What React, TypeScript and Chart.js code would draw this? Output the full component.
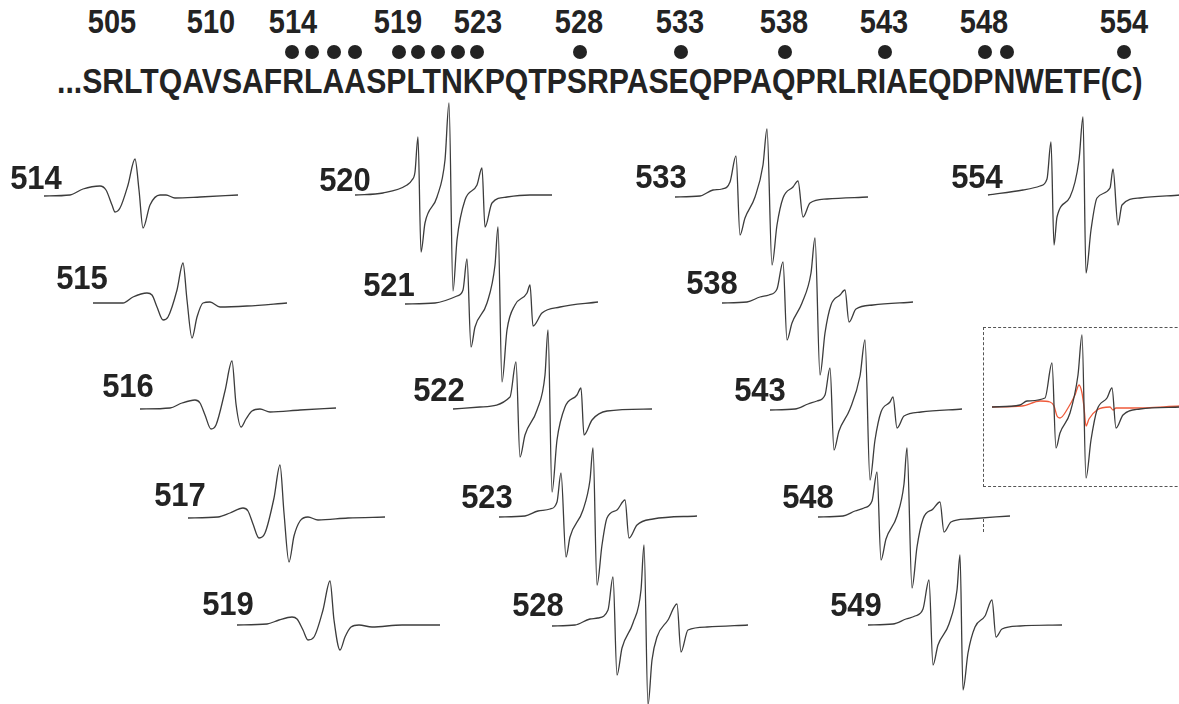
import React, { useEffect, useRef } from "react";
import { Chart, registerables } from "chart.js";

Chart.register(...registerables);

type Pt = [number, number];

// ---------- header (sequence, residue numbers, labelled sites) ----------
const sequenceText = "...SRLTQAVSAFRLAASPLTNKPQTPSRPASEQPPAQPRLRIAEQDPNWETF(C)";
const headerLabels = ["505", "510", "514", "519", "523", "528", "533", "538", "543", "548", "554"];
const headerLabelX = [112, 211, 293, 398, 478, 579, 680, 784, 884, 984, 1124];
const labelledSites = [514, 515, 516, 517, 519, 520, 521, 522, 523, 528, 533, 538, 543, 548, 549, 554];
const siteDotX = [292, 312, 334, 355, 399, 418, 438, 458, 477, 580, 681, 785, 885, 985, 1007, 1124];

// ---------- EPR spectra: [field (sweep units), derivative signal (a.u.)] ----------
const s514: Pt[] = [[0, 0], [26, 1], [39, 7], [56, 10], [62, 6], [68, -9], [71, -16], [76, -12], [84, 11], [91, 37], [95, 6], [99, -32], [106, -9], [116, 1], [122, 1], [131, -2], [156, -1], [194, 1]];
const s515: Pt[] = [[0, 0], [30, 0], [40, 6], [54, 10], [59, 8], [64, -4], [70, -17], [75, -14], [84, 13], [90, 40], [94, 3], [99, -35], [104, -14], [110, 0], [117, 1], [127, -4], [154, -3], [194, 0]];
const s516: Pt[] = [[0, 0], [30, 1], [42, 6], [55, 9], [60, 6], [65, -6], [71, -20], [76, -16], [85, 18], [92, 48], [96, 5], [101, -18], [106, -10], [112, -2], [120, 0], [130, -3], [160, -1], [196, 1]];
const s517: Pt[] = [[0, 0], [30, 1], [42, 5], [55, 10], [60, 7], [65, -6], [71, -20], [77, -15], [86, 20], [92, 53], [96, 5], [101, -44], [106, -18], [112, -3], [120, 1], [130, -2], [160, 0], [197, 1]];
const s519: Pt[] = [[0, 0], [30, 1], [42, 5], [55, 8], [60, 6], [66, -5], [71, -15], [77, -12], [86, 15], [93, 44], [97, 5], [103, -25], [108, -12], [114, -2], [122, 0], [135, -2], [165, 0], [203, 0]];
const s520: Pt[] = [[0, 0], [28, 2], [52, 10], [57, 15], [60, 23], [63, 58], [66, -57], [70, -28], [82, -2], [90, 35], [94, 92], [98, -96], [102, -45], [110, -5], [122, 10], [127, 27], [130, -32], [137, -8], [152, -2], [175, 0], [197, 0]];
const s521: Pt[] = [[0, 0], [30, 1], [52, 8], [58, 14], [62, 45], [66, -43], [70, -23], [82, 1], [90, 39], [93, 77], [97, -78], [102, -26], [110, -1], [122, 11], [125, 19], [128, -22], [137, -9], [155, -3], [193, 2]];
const s522: Pt[] = [[0, 0], [27, 2], [57, 12], [63, 47], [67, -48], [72, -26], [84, -1], [92, 34], [95, 79], [99, -83], [104, -31], [112, 2], [124, 14], [128, 21], [131, -26], [139, -11], [154, -2], [199, 0]];
const s523: Pt[] = [[0, -1], [26, 0], [39, 5], [51, 7], [58, 14], [62, 43], [67, -41], [71, -21], [84, 6], [91, 36], [94, 68], [98, -69], [103, -29], [108, -2], [118, 6], [126, 16], [130, -22], [138, -9], [154, -3], [198, 0]];
const s528: Pt[] = [[0, 0], [23, 1], [38, 7], [46, 8], [56, 16], [61, 49], [65, -49], [70, -22], [81, 3], [89, 36], [92, 81], [96, -79], [100, -34], [105, -11], [116, 6], [125, 22], [129, -26], [136, -4], [155, -1], [196, 1]];
const s533: Pt[] = [[0, 0], [25, 1], [38, 7], [47, 8], [55, 15], [61, 41], [65, -38], [70, -21], [80, 0], [88, 32], [92, 68], [97, -68], [102, -28], [108, -1], [118, 10], [123, 16], [128, -20], [135, -6], [152, -2], [193, 0]];
const s538: Pt[] = [[0, 0], [25, 1], [38, 6], [47, 8], [55, 14], [61, 41], [65, -37], [70, -20], [80, 0], [89, 30], [93, 65], [98, -72], [103, -30], [109, -2], [118, 8], [123, 13], [127, -19], [134, -6], [151, -2], [191, 1]];
const s543: Pt[] = [[0, 0], [25, 1], [38, 6], [47, 9], [55, 15], [60, 42], [64, -40], [69, -21], [80, 1], [90, 34], [95, 70], [100, -70], [105, -30], [111, -2], [120, 8], [123, 13], [127, -18], [134, -6], [151, -2], [192, 1]];
const s548: Pt[] = [[0, 0], [25, 1], [37, 6], [46, 9], [54, 16], [59, 45], [63, -43], [68, -22], [79, 1], [86, 33], [89, 69], [94, -71], [99, -30], [105, -2], [115, 8], [122, 15], [126, -15], [133, -5], [150, -2], [192, 1]];
const s549: Pt[] = [[0, 0], [25, 1], [38, 6], [47, 9], [55, 16], [61, 45], [65, -40], [70, -20], [81, 1], [89, 35], [92, 70], [95, -65], [100, -28], [107, -2], [117, 9], [124, 25], [128, -12], [134, -4], [152, -1], [194, 0]];
const s554: Pt[] = [[0, 0], [35, 5], [52, 9], [59, 16], [63, 53], [66, -50], [69, -22], [82, -2], [91, 35], [95, 78], [98, -78], [103, -35], [109, -3], [122, 7], [125, 26], [130, -30], [134, -10], [152, -3], [192, 0]];
// boxed comparison: 554 spectrum (black) and reduced spectrum (red)
const s554box: Pt[] = [[0, 0], [28, 2], [35, 6], [53, 9], [60, 44], [64, -41], [68, -26], [78, -6], [86, 32], [90, 72], [94, -71], [99, -33], [105, -3], [115, 9], [120, 19], [124, -21], [131, -8], [148, -2], [188, 0]];
const s554red: Pt[] = [[0, 0], [30, 1], [48, 6], [58, 5], [62, 1], [65, -9], [68, -11], [76, -1], [83, 12], [87, 22], [90, 14], [92, 0], [94, -19], [97, -12], [105, -3], [118, 0], [121, -3], [124, -1], [140, -1], [188, 1]];

// ---------- layout ----------
const TRACE = "#3c3c3c";
const RED = "#ef5a3a";
const X_MIN = -6, X_MAX = 206, Y_MIN = -120, Y_MAX = 125;

type Panel = { label: string; data: Pt[]; x0: number; base: number; lx: number; ly: number };
const panels: Panel[] = [
  { label: "514", data: s514, x0: 44, base: 196, lx: 36, ly: 178 },
  { label: "515", data: s515, x0: 93, base: 303, lx: 82, ly: 278 },
  { label: "516", data: s516, x0: 140, base: 409, lx: 128, ly: 386 },
  { label: "517", data: s517, x0: 188, base: 518, lx: 180, ly: 495 },
  { label: "519", data: s519, x0: 237, base: 625, lx: 228, ly: 604 },
  { label: "520", data: s520, x0: 355, base: 195, lx: 345, ly: 180 },
  { label: "521", data: s521, x0: 405, base: 304, lx: 389, ly: 285 },
  { label: "522", data: s522, x0: 453, base: 409, lx: 439, ly: 390 },
  { label: "523", data: s523, x0: 499, base: 516, lx: 487, ly: 497 },
  { label: "528", data: s528, x0: 552, base: 626, lx: 538, ly: 605 },
  { label: "533", data: s533, x0: 675, base: 197, lx: 661, ly: 177 },
  { label: "538", data: s538, x0: 722, base: 303, lx: 712, ly: 283 },
  { label: "543", data: s543, x0: 770, base: 410, lx: 760, ly: 390 },
  { label: "548", data: s548, x0: 818, base: 517, lx: 808, ly: 497 },
  { label: "549", data: s549, x0: 868, base: 625, lx: 856, ly: 605 },
  { label: "554", data: s554, x0: 988, base: 195, lx: 977, ly: 177 },
];

type Series = { data: Pt[]; color: string };

function Spectrum({ x0, base, series }: { x0: number; base: number; series: Series[] }) {
  const ref = useRef<HTMLCanvasElement>(null);
  const W = X_MAX - X_MIN;
  const H = Y_MAX - Y_MIN;
  useEffect(() => {
    if (!ref.current) return;
    const chart = new Chart(ref.current, {
      type: "line",
      data: {
        datasets: series.map((s) => ({
          data: s.data.map(([x, y]) => ({ x, y })),
          borderColor: s.color,
          borderWidth: 1.3,
          pointRadius: 0,
          fill: false,
          cubicInterpolationMode: "monotone" as const,
        })),
      },
      options: {
        animation: false,
        responsive: false,
        devicePixelRatio: 1,
        events: [],
        layout: { padding: 0 },
        plugins: { legend: { display: false }, tooltip: { enabled: false } },
        scales: {
          x: { type: "linear", min: X_MIN, max: X_MAX, display: false },
          y: { type: "linear", min: Y_MIN, max: Y_MAX, display: false },
        },
      },
    });
    return () => chart.destroy();
  }, []);
  return (
    <canvas
      ref={ref}
      width={W}
      height={H}
      style={{ position: "absolute", left: x0 + X_MIN, top: base - Y_MAX, width: W, height: H }}
    />
  );
}

const FONT = '"Liberation Sans", Arial, Helvetica, sans-serif';

function Label({ text, cx, cy, size, sy }: { text: string; cx: number; cy: number; size: number; sy: number }) {
  return (
    <div
      style={{
        position: "absolute",
        left: cx,
        top: cy,
        fontSize: size,
        lineHeight: 1,
        fontWeight: 700,
        whiteSpace: "nowrap",
        transform: `translate(-50%, -50%) scaleY(${sy})`,
      }}
    >
      {text}
    </div>
  );
}

export default function App() {
  return (
    <div
      style={{
        position: "absolute",
        left: 0,
        top: 0,
        width: 1179,
        height: 704,
        overflow: "hidden",
        background: "#fff",
        fontFamily: FONT,
        color: "#232323",
      }}
    >
      {headerLabels.map((t, i) => (
        <Label key={"h" + t} text={t} cx={headerLabelX[i]} cy={22} size={29} sy={1.12} />
      ))}
      {labelledSites.map((r, i) => (
        <div
          key={"d" + r}
          title={String(r)}
          style={{
            position: "absolute",
            left: siteDotX[i] - 7,
            top: 52 - 7,
            width: 14,
            height: 14,
            borderRadius: "50%",
            background: "#232323",
          }}
        />
      ))}
      <div
        style={{
          position: "absolute",
          left: 57,
          top: 82,
          fontSize: 30.2,
          lineHeight: 1,
          fontWeight: 700,
          whiteSpace: "nowrap",
          transform: "translate(0, -50%) scaleY(1.15)",
        }}
      >
        {sequenceText}
      </div>

      {panels.map((p) => (
        <Spectrum key={p.label} x0={p.x0} base={p.base} series={[{ data: p.data, color: TRACE }]} />
      ))}
      {panels.map((p) => (
        <Label key={"l" + p.label} text={p.label} cx={p.lx} cy={p.ly} size={31} sy={1.08} />
      ))}

      <div
        style={{
          position: "absolute",
          left: 983,
          top: 327,
          width: 240,
          height: 160,
          border: "1.5px dashed #555",
          boxSizing: "border-box",
        }}
      />
      <div
        style={{
          position: "absolute",
          left: 983,
          top: 519,
          width: 0,
          height: 13,
          borderLeft: "1.5px dashed #555",
        }}
      />
      <Spectrum
        x0={992}
        base={407}
        series={[
          { data: s554box, color: TRACE },
          { data: s554red, color: RED },
        ]}
      />
    </div>
  );
}
